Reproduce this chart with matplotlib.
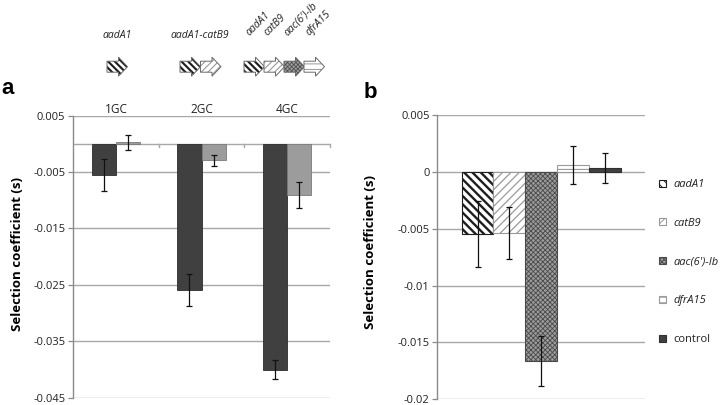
import matplotlib
matplotlib.use("Agg")
import matplotlib.pyplot as plt
import numpy as np
from matplotlib.patches import Polygon

plt.rcParams['font.family'] = ['Open Sans', 'DejaVu Sans']

# ---------------- data ----------------
groups = ['1GC', '2GC', '4GC']
gene_sets = [['aadA1'], ['aadA1', 'catB9'], ['aadA1', 'catB9', "aac(6')-Ib", 'dfrA15']]
a_dark = [-0.0055, -0.0259, -0.0400]
a_dark_err = [0.0029, 0.0028, 0.0016]
a_light = [0.0003, -0.0029, -0.0091]
a_light_err = [0.0013, 0.0010, 0.0023]
a_yticks = [0.005, -0.005, -0.015, -0.025, -0.035, -0.045]
a_ylabels = ['0.005', '-0.005', '-0.015', '-0.025', '-0.035', '-0.045']

b_genes = ['aadA1', 'catB9', "aac(6')-Ib", 'dfrA15', 'control']
b_vals = [-0.00545, -0.0054, -0.0166, 0.0006, 0.00035]
b_err = [0.0029, 0.0023, 0.0022, 0.0017, 0.0013]
b_yticks = [0.005, 0, -0.005, -0.01, -0.015, -0.02]
b_ylabels = ['0.005', '0', '-0.005', '-0.01', '-0.015', '-0.02']

# ---------------- styles ----------------
W, H = 726, 405
fig = plt.figure(figsize=(W / 100, H / 100), dpi=100)
GRID = '#a8a8a8'
SPINE = '#8a8a8a'

gene_style = {
    'aadA1': dict(face='white', hatch='\\\\\\\\', hc='#1e1e1e', hlw=1.7),
    'catB9': dict(face='white', hatch='////', hc='#9a9a9a', hlw=0.9),
    "aac(6')-Ib": dict(face='#9c9c9c', hatch='xxxxxxx', hc='#4a4a4a', hlw=0.6),
    'dfrA15': dict(face='white', hatch='---', hc='#9a9a9a', hlw=0.8),
    'control': dict(face='#404040', hatch=None, hc='#303030', hlw=1.0),
}
arrow_hatch = {
    'aadA1': '\\\\\\\\\\',
    'catB9': '/////',
    "aac(6')-Ib": 'xxxxxxxx',
    'dfrA15': '---',
}


def px_axes(l, t, r, b):
    return fig.add_axes([l / W, 1 - b / H, (r - l) / W, (b - t) / H])


def style_axis(ax, ticks, labels):
    ax.set_yticks(ticks)
    ax.set_yticklabels(labels, fontsize=8, color='#222222')
    for s in ['top', 'right', 'bottom']:
        ax.spines[s].set_visible(False)
    ax.spines['left'].set_color(SPINE)
    ax.spines['left'].set_linewidth(1.0)
    ax.tick_params(axis='y', length=3.5, width=0.9, color=SPINE, pad=2)
    ax.set_xticks([])
    for t in ticks:
        ax.axhline(t, color=GRID, lw=1.0, zorder=0.5)


# ---------------- panel a ----------------
axa = px_axes(73, 115.7, 330, 397.7)
x = np.arange(len(groups))
bw = 0.284
axa.set_xlim(-0.5, len(groups) - 0.5)
axa.set_ylim(a_yticks[-1], a_yticks[0])
style_axis(axa, a_yticks, a_ylabels)
axa.axhline(0, color=GRID, lw=1.0, zorder=0.6)
for bnd in np.arange(0.5, len(groups), 1.0):
    axa.plot([bnd, bnd], [0, -0.0006], color=GRID, lw=1.0, zorder=0.6, clip_on=False)
ekw = dict(ecolor='#111111', elinewidth=0.9, capsize=2.3, capthick=0.9)
axa.bar(x - bw / 2, a_dark, bw, color='#404040', edgecolor='#2c2c2c', lw=0.6,
        yerr=a_dark_err, error_kw=ekw, zorder=2)
axa.bar(x + bw / 2, a_light, bw, color='#9c9c9c', edgecolor='#7a7a7a', lw=0.6,
        yerr=a_light_err, error_kw=ekw, zorder=2)
for xi, g in zip(x, groups):
    axa.text(xi, 1.0, g, transform=axa.get_xaxis_transform(), ha='center',
             va='bottom', fontsize=8.5, color='#222222')

fig.text(17.5 / W, 1 - 254 / H, 'Selection coefficient (s)', rotation=90,
         ha='center', va='center', fontsize=9.5, fontweight='bold')
fig.text(7.5 / W, 1 - 88 / H, 'a', ha='center', va='center', fontsize=16,
         fontweight='bold', family='Liberation Sans')

# arrows (gene cassette illustration)
arrow_w, arrow_h, body_h, head_l = 20.5, 19, 11, 9
arrow_starts = [[107], [180, 200.5], [244, 264, 284, 304]]
acy = 66.7


def draw_arrow(x0, gene):
    st = gene_style[gene]
    pts = [(x0, acy - body_h / 2), (x0 + arrow_w - head_l, acy - body_h / 2),
           (x0 + arrow_w - head_l, acy - arrow_h / 2), (x0 + arrow_w, acy),
           (x0 + arrow_w - head_l, acy + arrow_h / 2), (x0 + arrow_w - head_l, acy + body_h / 2),
           (x0, acy + body_h / 2)]
    pts = [(px / W, 1 - py / H) for px, py in pts]
    with plt.rc_context({'hatch.linewidth': st['hlw'] * 0.9}):
        p = Polygon(pts, closed=True, transform=fig.transFigure, facecolor=st['face'],
                    edgecolor=st['hc'], hatch=arrow_hatch[gene], lw=0.0)
        fig.add_artist(p)
    p2 = Polygon(pts, closed=True, transform=fig.transFigure, facecolor='none',
                 edgecolor='#6a6a6a', lw=0.7)
    fig.add_artist(p2)


for starts, genes in zip(arrow_starts, gene_sets):
    for x0, g in zip(starts, genes):
        draw_arrow(x0, g)

fig.text(117 / W, 1 - 36 / H, gene_sets[0][0], ha='center', va='center',
         fontsize=7.5, style='italic', color='#222222')
fig.text(200 / W, 1 - 36 / H, '-'.join(gene_sets[1]), ha='center', va='center',
         fontsize=7.5, style='italic', color='#222222')
for x0, g in zip([252, 270, 290, 311], gene_sets[2]):
    fig.text(x0 / W, 1 - 38 / H, g, ha='left', va='bottom', rotation=45,
             rotation_mode='anchor', fontsize=7.5, style='italic', color='#222222')

# ---------------- panel b ----------------
axb = px_axes(437.3, 115, 645, 399.3)
axb.set_xlim(0, 1)
axb.set_ylim(b_yticks[-1], b_yticks[0])
style_axis(axb, b_yticks, b_ylabels)
bwb = 0.1531
xb = 0.5 + (np.arange(len(b_genes)) - (len(b_genes) - 1) / 2) * bwb
handles = []
for xi, g, v, e in zip(xb, b_genes, b_vals, b_err):
    st = gene_style[g]
    with plt.rc_context({'hatch.linewidth': st['hlw']}):
        bars = axb.bar(xi, v, bwb, color=st['face'], edgecolor=st['hc'], lw=0.8,
                       hatch=st['hatch'], zorder=2, label=g)
    axb.errorbar(xi, v, yerr=e, fmt='none', zorder=3, **ekw)
    handles.append(bars)

fig.text(371 / W, 1 - 252 / H, 'Selection coefficient (s)', rotation=90,
         ha='center', va='center', fontsize=9.5, fontweight='bold')
fig.text(370 / W, 1 - 92 / H, 'b', ha='center', va='center', fontsize=16,
         fontweight='bold', family='Liberation Sans')

with plt.rc_context({'hatch.linewidth': 0.7}):
    leg = fig.legend(handles, b_genes, loc='center left',
                     bbox_to_anchor=(659 / W, 1 - 262 / H), frameon=False,
                     fontsize=8, handlelength=0.6, handleheight=0.6,
                     handletextpad=0.7, labelspacing=2.5, borderpad=0,
                     borderaxespad=0)
for t in leg.get_texts()[:4]:
    t.set_style('italic')
for t in leg.get_texts():
    t.set_color('#222222')

fig.savefig('out.png', dpi=100)
